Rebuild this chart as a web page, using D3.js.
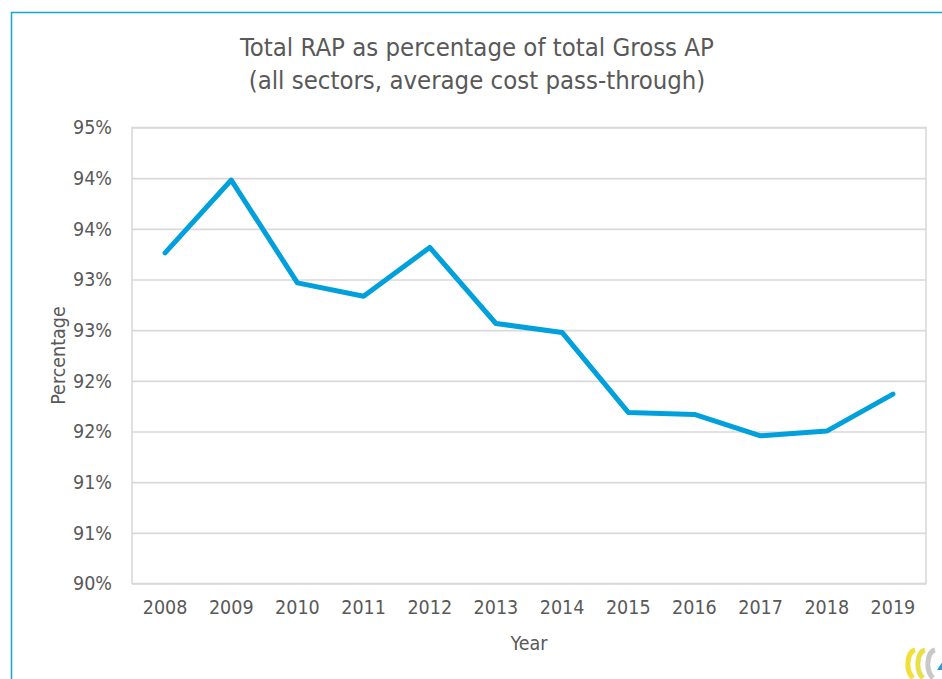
<!DOCTYPE html>
<html>
<head>
<meta charset="utf-8">
<script src="https://cdn.jsdelivr.net/npm/d3@7"></script>
<style>
  html, body { margin: 0; padding: 0; background: #ffffff; }
  svg { display: block; }
  text { font-family: "DejaVu Sans Condensed", "DejaVu Sans", sans-serif; fill: #595959; }
</style>
</head>
<body>
<script>
// ---- data ----
const years = ["2008","2009","2010","2011","2012","2013","2014","2015","2016","2017","2018","2019"];
const rapShare = [0.93626, 0.94424, 0.93296, 0.93150, 0.93685, 0.92851, 0.92753, 0.91876, 0.91854, 0.91619, 0.91671, 0.92077];
const yTicks = [0.90, 0.905556, 0.911111, 0.916667, 0.922222, 0.927778, 0.933333, 0.938889, 0.944444, 0.95];
const titleLines = ["Total RAP as percentage of total Gross AP", "(all sectors, average cost pass-through)"];
const xTitle = "Year";
const yTitle = "Percentage";

// ---- layout ----
const W = 942, H = 679;
const plot = { left: 132, right: 926, top: 127.5, bottom: 583.5 };

const svg = d3.select("body").append("svg").attr("width", W).attr("height", H);

// outer blue frame (top and left visible)
svg.append("line").attr("x1", 11).attr("x2", W + 5).attr("y1", 12.5).attr("y2", 12.5)
  .attr("stroke", "#1ba3dc").attr("stroke-width", 1.5);
svg.append("line").attr("x1", 11.5).attr("x2", 11.5).attr("y1", 12).attr("y2", H + 5)
  .attr("stroke", "#1ba3dc").attr("stroke-width", 1.5);

const x = d3.scaleBand().domain(years).range([plot.left, plot.right]).padding(0);
const y = d3.scaleLinear().domain([0.90, 0.95]).range([plot.bottom, plot.top]);

// gridlines
svg.append("g").attr("class", "grid")
  .attr("transform", `translate(${plot.left},0)`)
  .call(d3.axisLeft(y).tickValues(yTicks).tickSize(-(plot.right - plot.left)).tickFormat(""))
  .call(g => g.select(".domain").remove())
  .call(g => g.selectAll("line").attr("stroke", "#d9d9d9").attr("stroke-width", 1.6));

// plot border
svg.append("rect").attr("x", plot.left).attr("y", plot.top)
  .attr("width", plot.right - plot.left).attr("height", plot.bottom - plot.top)
  .attr("fill", "none").attr("stroke", "#d9d9d9").attr("stroke-width", 1.6);

// y axis labels
svg.append("g")
  .attr("transform", `translate(${plot.left},0)`)
  .call(d3.axisLeft(y).tickValues(yTicks).tickSize(0).tickPadding(20).tickFormat(d3.format(".0%")))
  .call(g => g.select(".domain").remove())
  .call(g => g.selectAll("text").style("font-size", "19.5px").attr("fill", "#595959")
    .style("font-family", '"DejaVu Sans Condensed", sans-serif'));

// x axis labels
svg.append("g")
  .attr("transform", `translate(0,${plot.bottom})`)
  .call(d3.axisBottom(x).tickSize(0).tickPadding(17))
  .call(g => g.select(".domain").remove())
  .call(g => g.selectAll("text").style("font-size", "19.5px").attr("fill", "#595959")
    .style("font-family", '"DejaVu Sans Condensed", sans-serif'));

// line
const line = d3.line()
  .x((d, i) => x(years[i]) + x.bandwidth() / 2)
  .y(d => y(d));
svg.append("path").datum(rapShare)
  .attr("d", line)
  .attr("fill", "none")
  .attr("stroke", "#00a0dc")
  .attr("stroke-width", 5)
  .attr("stroke-linecap", "round")
  .attr("stroke-linejoin", "round");

// titles
const t = svg.append("text").attr("text-anchor", "middle").style("font-size", "25.5px");
titleLines.forEach((s, i) => {
  t.append("tspan").attr("x", 477).attr("y", 56 + i * 33).text(s);
});
svg.append("text").attr("x", (plot.left + plot.right) / 2).attr("y", 650)
  .attr("text-anchor", "middle").style("font-size", "19.5px").text(xTitle);
svg.append("text").attr("transform", `translate(65,${(plot.top + plot.bottom) / 2}) rotate(-90)`)
  .attr("text-anchor", "middle").style("font-size", "19.5px").text(yTitle);

// small logo in the bottom-right corner
const logo = svg.append("g").attr("transform", "translate(905,648)");
logo.append("path").attr("d", "M10,2 C2,4 0,22 8,30").attr("fill", "none").attr("stroke", "#f2e03a").attr("stroke-width", 5);
logo.append("path").attr("d", "M20,2 C12,4 10,22 18,30").attr("fill", "none").attr("stroke", "#e8e04a").attr("stroke-width", 5);
logo.append("path").attr("d", "M30,2 C22,4 20,22 28,30").attr("fill", "none").attr("stroke", "#c8c8c8").attr("stroke-width", 5);
logo.append("path").attr("d", "M32,22 L40,10 L40,22 Z").attr("fill", "#2a9bd6");
</script>
</body>
</html>
